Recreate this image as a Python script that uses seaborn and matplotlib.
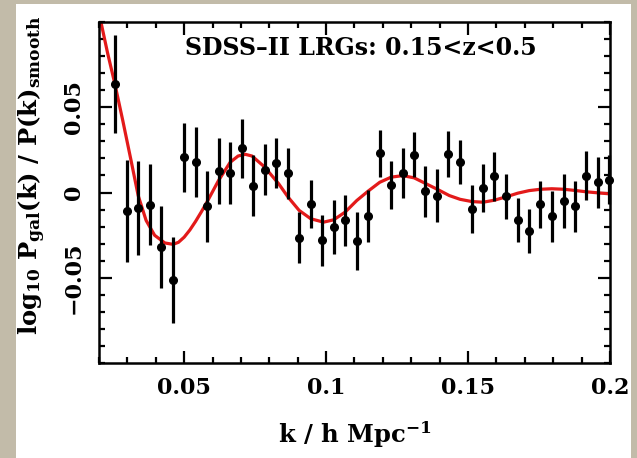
import numpy as np
import pandas as pd
import seaborn as sns
import matplotlib.pyplot as plt
from matplotlib.patches import Rectangle
from matplotlib.ticker import MultipleLocator, FixedLocator

# BAO wiggles: binned data with error bars
k_data = [0.0256, 0.0298, 0.0338, 0.0378, 0.0420, 0.0461, 0.0501, 0.0540, 0.0580, 0.0622,
          0.0662, 0.0703, 0.0742, 0.0783, 0.0824, 0.0866, 0.0905, 0.0946, 0.0987, 0.1027,
          0.1067, 0.1108, 0.1148, 0.1189, 0.1229, 0.1270, 0.1310, 0.1350, 0.1391, 0.1431,
          0.1472, 0.1513, 0.1553, 0.1593, 0.1635, 0.1675, 0.1715, 0.1755, 0.1795, 0.1837,
          0.1877, 0.1917, 0.1957, 0.1997]
v_data = [0.0636, -0.0109, -0.0092, -0.0072, -0.0320, -0.0515, 0.0206, 0.0177, -0.0082, 0.0125,
          0.0113, 0.0259, 0.0041, 0.0134, 0.0171, 0.0113, -0.0265, -0.0066, -0.0281, -0.0203,
          -0.0164, -0.0285, -0.0139, 0.0230, 0.0045, 0.0115, 0.0222, 0.0006, -0.0018, 0.0226,
          0.0177, -0.0095, 0.0027, 0.0094, -0.0023, -0.0160, -0.0228, -0.0070, -0.0140, -0.0051,
          -0.0082, 0.0099, 0.0060, 0.0076]
err_data = [0.0285, 0.0297, 0.0276, 0.0237, 0.0239, 0.0253, 0.0203, 0.0206, 0.0208, 0.0195,
            0.0182, 0.0172, 0.0180, 0.0150, 0.0146, 0.0150, 0.0148, 0.0141, 0.0149, 0.0160,
            0.0151, 0.0172, 0.0151, 0.0138, 0.0141, 0.0146, 0.0130, 0.0148, 0.0153, 0.0135,
            0.0129, 0.0141, 0.0139, 0.0144, 0.0130, 0.0130, 0.0129, 0.0136, 0.0151, 0.0160,
            0.0151, 0.0143, 0.0148, 0.0144]

# model curve
curve_k = [0.0206, 0.0230, 0.0256, 0.0284, 0.0313, 0.0338, 0.0366, 0.0396, 0.0432, 0.0461,
           0.0480, 0.0500, 0.0520, 0.0540, 0.0560, 0.0580, 0.0621, 0.0662, 0.0690, 0.0715,
           0.0739, 0.0783, 0.0833, 0.0866, 0.0905, 0.0946, 0.0991, 0.1027, 0.1067, 0.1108,
           0.1148, 0.1189, 0.1229, 0.1270, 0.1310, 0.1350, 0.1395, 0.1434, 0.1472, 0.1513,
           0.1553, 0.1593, 0.1635, 0.1675, 0.1715, 0.1755, 0.1795, 0.1837, 0.1877, 0.1917,
           0.1957, 0.2000]
curve_v = [0.1006, 0.0820, 0.0636, 0.0420, 0.0187, -0.0018, -0.0164, -0.0251, -0.0296, -0.0304,
           -0.0292, -0.0262, -0.0220, -0.0170, -0.0115, -0.0057, 0.0070, 0.0177, 0.0214, 0.0224,
           0.0214, 0.0150, 0.0051, -0.0027, -0.0105, -0.0154, -0.0174, -0.0160, -0.0115, -0.0047,
           0.0008, 0.0060, 0.0090, 0.0099, 0.0086, 0.0053, 0.0016, -0.0018, -0.0040, -0.0053,
           -0.0057, -0.0045, -0.0025, -0.0004, 0.0011, 0.0019, 0.0022, 0.0019, 0.0012, 0.0004,
           -0.0002, -0.0008]

xticks = [0.05, 0.1, 0.15, 0.2]
xticklabels = ['0.05', '0.1', '0.15', '0.2']
yticks = [-0.05, 0, 0.05]
yticklabels = ['\u22120.05', '0', '0.05']

sns.set_style('ticks')
plt.rcParams['font.family'] = ['DejaVu Serif']
plt.rcParams['font.weight'] = 'bold'
plt.rcParams['mathtext.fontset'] = 'dejavuserif'
plt.rcParams['text.color'] = 'black'
plt.rcParams['axes.labelcolor'] = 'black'

fig = plt.figure(figsize=(6.37, 4.58), dpi=100)
fig.patch.set_facecolor('#c2bba9')
# white panel on the textured backdrop
fig.patches.append(Rectangle((16 / 637, 0), 615 / 637, 454 / 458, transform=fig.transFigure,
                             facecolor='white', edgecolor='none', zorder=-5))

ax = fig.add_axes([99 / 637, 95 / 458, 511 / 637, 341 / 458])
ax.set_facecolor('white')

curve = pd.DataFrame({'k': curve_k, 'v': curve_v})
sns.lineplot(data=curve, x='k', y='v', sort=False, estimator=None, color='#e31a1a',
             linewidth=2.3, ax=ax, zorder=2)
ax.errorbar(k_data, v_data, yerr=err_data, fmt='o', color='black', ms=5.5,
            elinewidth=2.3, capsize=0, zorder=3, clip_on=False)

ax.set_xlim(0.02, 0.2)
ax.set_ylim(-0.1, 0.1)
ax.xaxis.set_major_locator(FixedLocator(xticks))
ax.set_xticklabels(xticklabels)
ax.xaxis.set_minor_locator(MultipleLocator(0.01))
ax.yaxis.set_major_locator(FixedLocator(yticks))
ax.set_yticklabels(yticklabels, rotation=90, va='center')
ax.yaxis.set_minor_locator(MultipleLocator(0.01))

ax.tick_params(which='both', direction='in', top=True, right=True, width=1.6,
               labelsize=16, color='black', labelcolor='black')
ax.tick_params(which='major', length=9, pad=10)
ax.tick_params(which='minor', length=4.5)
for s in ax.spines.values():
    s.set_linewidth(1.8)
    s.set_color('black')

ax.set_xlabel(r'k / h Mpc$^{\mathbf{-1}}$', fontsize=17.5, fontweight='bold', labelpad=15)
ax.set_ylabel(r'log$_{\mathbf{10}}$ P$_{\mathbf{gal}}$(k) / P(k)$_{\mathbf{smooth}}$',
              fontsize=17.5, fontweight='bold')
ax.yaxis.set_label_coords(-0.10, 0.55)

ax.text(0.168, 0.925, 'SDSS\u2013II LRGs: 0.15<z<0.5', transform=ax.transAxes,
        fontsize=17, fontweight='bold', ha='left', va='center')

fig.savefig('out.png', dpi=100, facecolor=fig.get_facecolor())
